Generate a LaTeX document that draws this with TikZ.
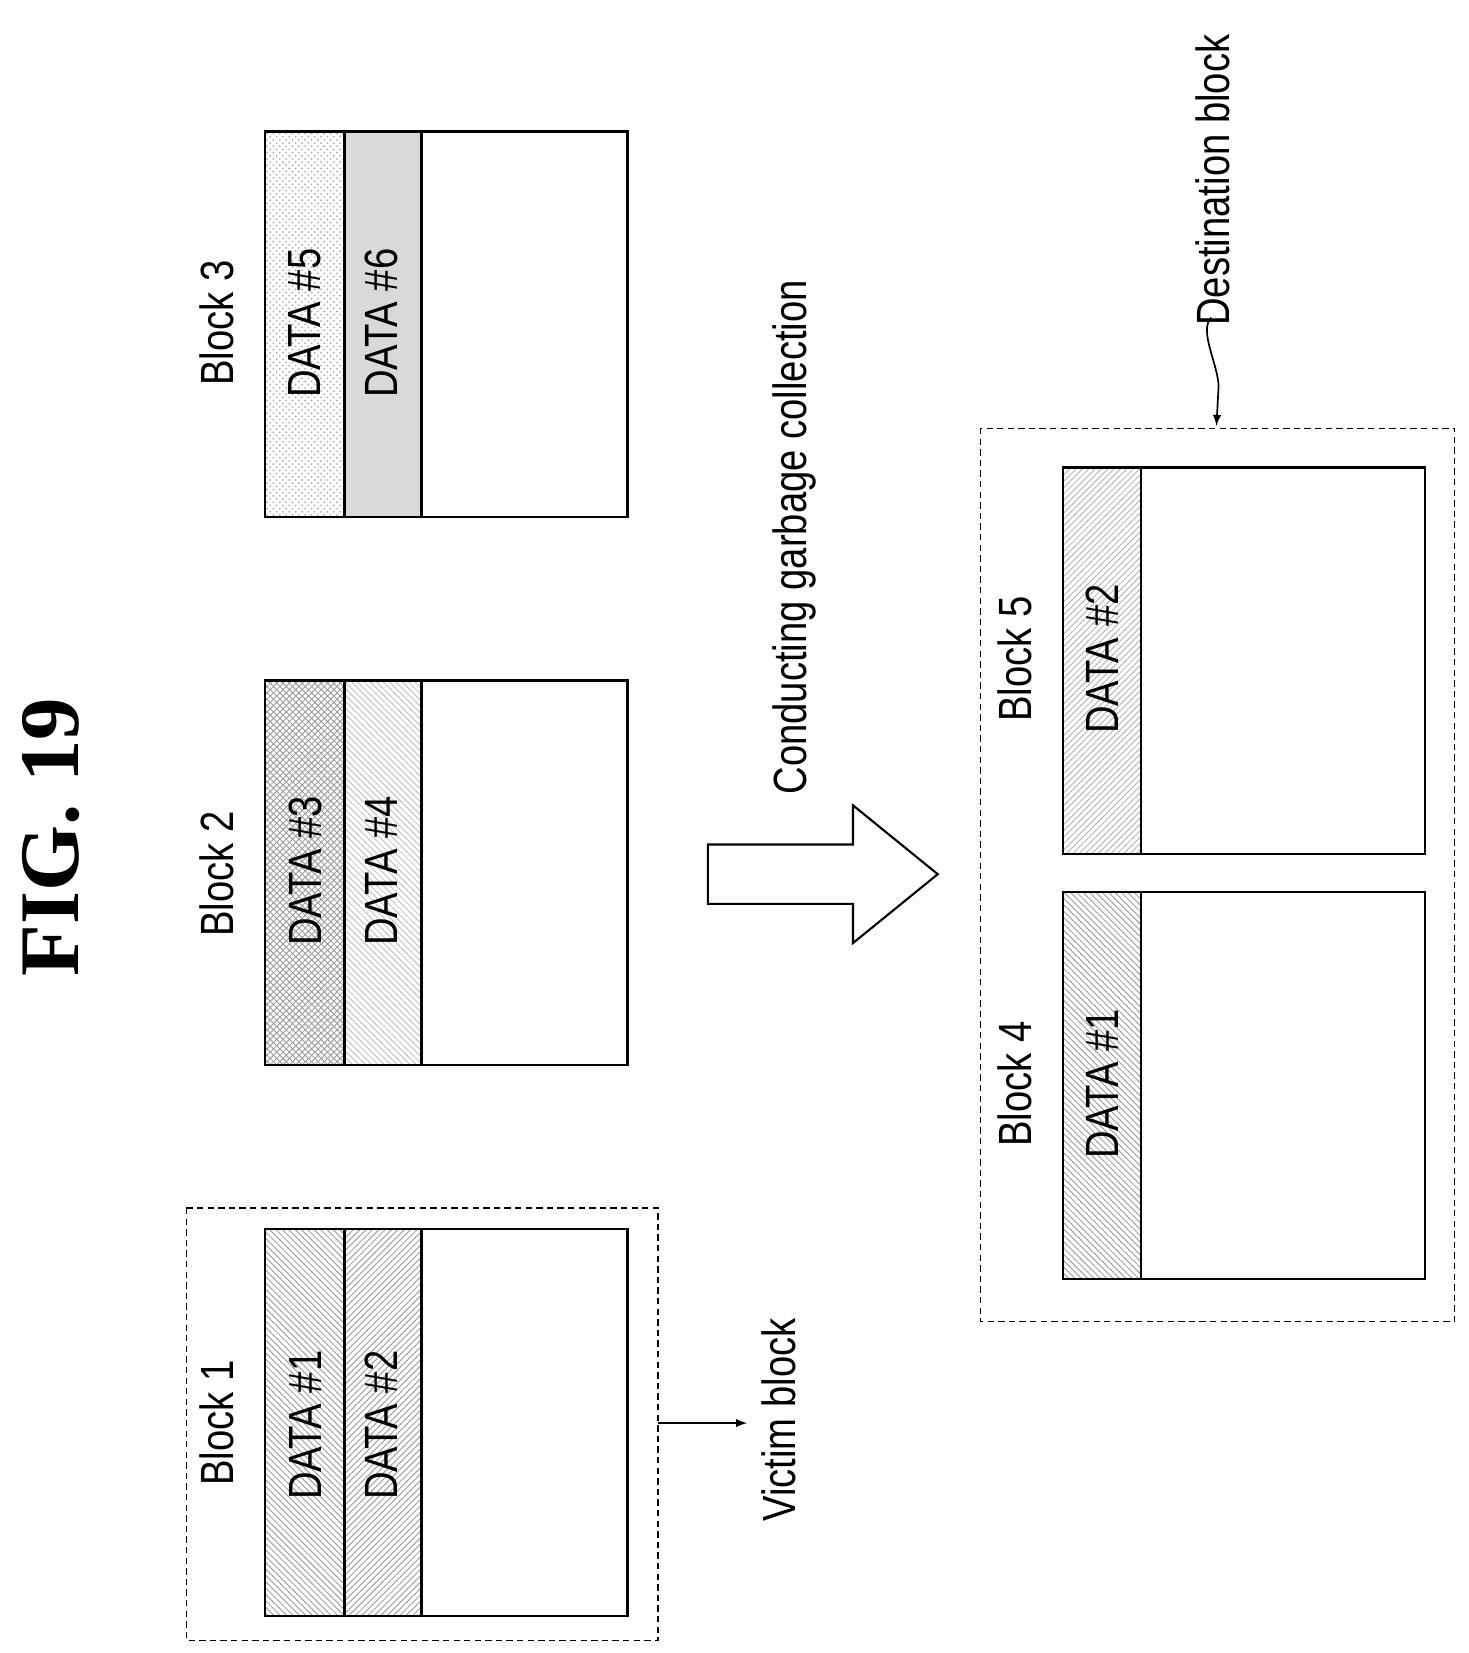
\documentclass[tikz,border=0pt]{standalone}
\usepackage{fontspec}
\setmainfont{Liberation Sans}
\newfontfamily\figfont{Liberation Serif}
\usetikzlibrary{patterns}
\newcommand{\nar}[1]{\scalebox{0.82}[1]{#1}}
\tikzset{
  lbl/.style={rotate=90, font=\fontsize{22}{25}\selectfont, inner sep=0pt},
  blk/.style={draw, line width=1.2pt},
  dbox/.style={draw, densely dashed, line width=0.5pt},
  hatch/.style={pattern=#1, pattern color=gray!80},
}

\begin{document}
\begin{tikzpicture}[x=0.5pt, y=-0.5pt]
\useasboundingbox (0,0) rectangle (1386,1560);

\node[rotate=90, font=\figfont\bfseries\fontsize{40}{44}\selectfont] (fig) at (48,790) {FIG. 19};

% victim side
\draw[dbox] (176,1140) rectangle (621,1548);
\coordinate (vb) at (621,1343);
\draw[hatch=north west lines] (250,1160) rectangle (325,1525);
\draw[hatch=north east lines] (325,1160) rectangle (398,1525);
\draw[blk] (250,1160) rectangle (592,1525) (325,1160) -- (325,1525) (398,1160) -- (398,1525);
\node[lbl] (b1) at (205,1343) {\nar{Block 1}};
\node[lbl] (d1) at (288,1345) {\nar{DATA \#1}};
\node[lbl] (d2) at (360,1345) {\nar{DATA \#2}};

\draw[hatch=crosshatch] (250,642) rectangle (325,1005);
\draw[pattern=north west lines, pattern color=gray!50] (325,642) rectangle (398,1005);
\draw[blk] (250,642) rectangle (592,1005) (325,642) -- (325,1005) (398,642) -- (398,1005);
\node[lbl] (b2) at (205,825) {\nar{Block 2}};
\node[lbl] (d3) at (288,822) {\nar{DATA \#3}};
\node[lbl] (d4) at (360,822) {\nar{DATA \#4}};

\draw[pattern=crosshatch dots, pattern color=gray!60] (250,124) rectangle (325,488);
\draw[fill=black!15] (325,124) rectangle (398,488);
\draw[blk] (250,124) rectangle (592,488) (325,124) -- (325,488) (398,124) -- (398,488);
\node[lbl] (b3) at (205,305) {\nar{Block 3}};
\node[lbl] (d5) at (288,305) {\nar{DATA \#5}};
\node[lbl] (d6) at (360,305) {\nar{DATA \#6}};

\node[lbl] (vt) at (735,1340) {\nar{Victim block}};
\draw[-latex, line width=0.8pt] (vb) -- (705,1343);

% big arrow
\draw[line width=1pt] (668,797) -- (805,797) -- (805,760) -- (885,825)
  -- (805,890) -- (805,853) -- (668,853) -- cycle;
\node[lbl] (gc) at (750,507) {\nar{Conducting garbage collection}};

% destination side
\draw[dbox] (925,404) rectangle (1373,1247);
\draw[hatch=north west lines] (1003,842) rectangle (1077,1207);
\draw[blk] (1003,842) rectangle (1345,1207) (1077,842) -- (1077,1207);
\node[lbl] (b4) at (958,1023) {\nar{Block 4}};
\node[lbl] (d7) at (1040,1023) {\nar{DATA \#1}};

\draw[pattern=north east lines, pattern color=gray!60] (1003,441) rectangle (1077,806);
\draw[blk] (1003,441) rectangle (1345,806) (1077,441) -- (1077,806);
\node[lbl] (b5) at (958,622) {\nar{Block 5}};
\node[lbl] (d8) at (1040,622) {\nar{DATA \#2}};

\node[lbl] (dt) at (1145,170) {\nar{Destination block}};
\coordinate (db) at (1148,402);
\draw[-latex, line width=0.8pt] (dt.west) ++(-2,-8) .. controls +(-12,12) and +(0,-20) .. (1150,365) -- (db);
\end{tikzpicture}
\end{document}
